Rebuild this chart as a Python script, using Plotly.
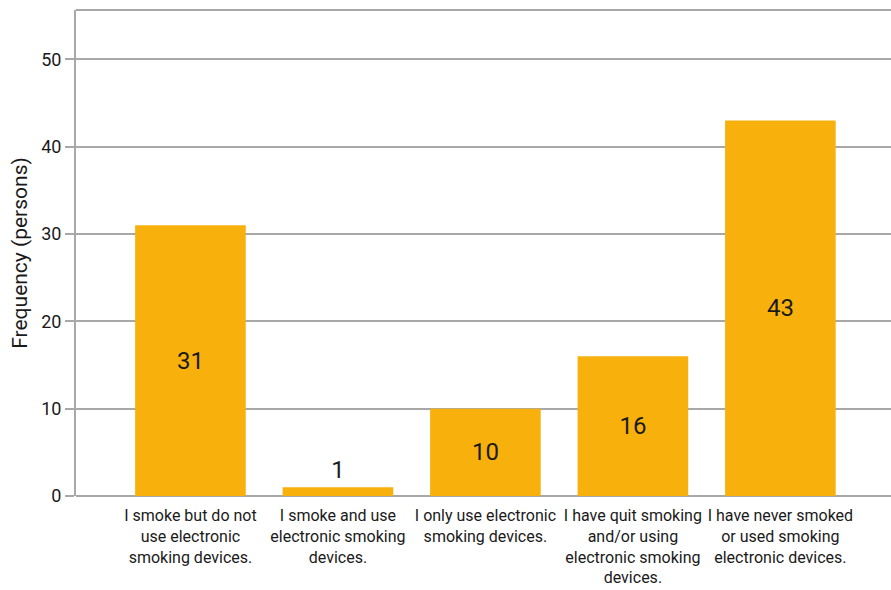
import plotly.graph_objects as go

categories = [
    "I smoke but do not<br>use electronic<br>smoking devices.",
    "I smoke and use<br>electronic smoking<br>devices.",
    "I only use electronic<br>smoking devices.",
    "I have quit smoking<br>and/or using<br>electronic smoking<br>devices.",
    "I have never smoked<br>or used smoking<br>electronic devices.",
]
frequency = [31, 1, 10, 16, 43]
y_ticks = [0, 10, 20, 30, 40, 50]

FONT = "Roboto, sans-serif"
BAR = "#F8B10C"
GRID = "#A8A8A8"
TEXT = "#1a1a1a"

positions = ["outside" if v < 5 else "inside" for v in frequency]

fig = go.Figure(
    go.Bar(
        x=list(range(len(categories))),
        y=frequency,
        marker=dict(color=BAR, line=dict(width=0)),
        width=0.75,
        text=[str(v) for v in frequency],
        textposition=positions,
        insidetextanchor="middle",
        textfont=dict(family=FONT, size=24, color=TEXT),
        outsidetextfont=dict(family=FONT, size=24, color=TEXT),
        constraintext="none",
        cliponaxis=False,
    )
)

fig.update_layout(
    width=891,
    height=590,
    margin=dict(l=76, r=0, t=10, b=94),
    plot_bgcolor="white",
    paper_bgcolor="white",
    showlegend=False,
    font=dict(family=FONT, color=TEXT),
    bargap=0.25,
)

fig.update_xaxes(
    range=[-0.776, 4.75],
    tickmode="array",
    tickvals=list(range(len(categories))),
    ticktext=categories,
    tickangle=0,
    tickfont=dict(family=FONT, size=16, color=TEXT),
    ticklabelstandoff=8,
    showgrid=False,
    showline=False,
    ticks="",
    zeroline=False,
    automargin=False,
)

fig.update_yaxes(
    range=[0, 55.66],
    tickmode="array",
    tickvals=y_ticks,
    tickfont=dict(family=FONT, size=18, color=TEXT),
    ticks="outside",
    ticklen=9,
    tickwidth=1.5,
    tickcolor=GRID,
    showgrid=True,
    gridcolor=GRID,
    gridwidth=1.5,
    showline=True,
    linecolor=GRID,
    linewidth=2,
    mirror=False,
    zeroline=True,
    zerolinecolor=GRID,
    zerolinewidth=2,
    automargin=False,
    title=dict(text="Frequency (persons)", font=dict(family=FONT, size=21, color=TEXT), standoff=8),
)

# top frame line of the plotting area
fig.add_shape(
    type="line", xref="paper", yref="paper", x0=0, x1=1, y0=1, y1=1,
    line=dict(color=GRID, width=2),
)

fig.write_html("out.html")
